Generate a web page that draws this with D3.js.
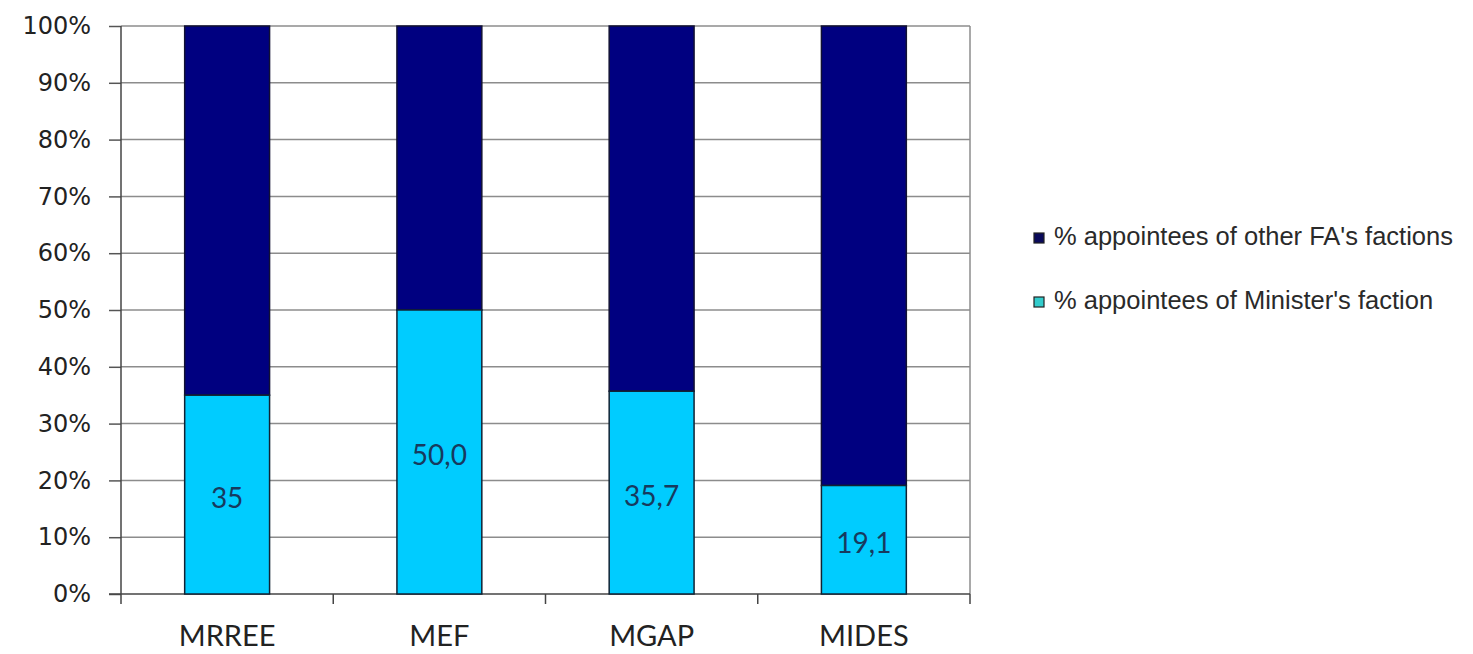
<!DOCTYPE html>
<html><head><meta charset="utf-8">
<script src="https://cdn.jsdelivr.net/npm/d3@7"></script>
<style>body{margin:0;background:#fff;} svg{display:block;}</style>
</head><body>
<svg id="c" width="1473" height="654"></svg>
<script>
const categories = ["MRREE", "MEF", "MGAP", "MIDES"];
const ministerFaction = [35, 50.0, 35.7, 19.1];
const otherFactions = [65, 50.0, 64.3, 80.9];
const valueLabels = ["35", "50,0", "35,7", "19,1"];
const seriesNames = ["% appointees of other FA's factions", "% appointees of Minister's faction"];
const yTicks = [0,10,20,30,40,50,60,70,80,90,100];

const svg = d3.select("#c");
const L = 121, R = 970, T = 26, B = 594;
const x = d3.scaleBand().domain(categories).range([L, R]).paddingInner(0.6).paddingOuter(0.3);
const y = d3.scaleLinear().domain([0, 100]).range([B, T]);

// gridlines
svg.append("g").selectAll("line").data(yTicks.slice(1)).join("line")
  .attr("x1", L).attr("x2", R).attr("y1", d => y(d)).attr("y2", d => y(d))
  .attr("stroke", "#8c8c8c").attr("stroke-width", 1.5);
// right border
svg.append("line").attr("x1", R).attr("x2", R).attr("y1", T).attr("y2", B)
  .attr("stroke", "#8c8c8c").attr("stroke-width", 1.5);

// y axis
const yAxis = d3.axisLeft(y).tickValues(yTicks).tickFormat(d => d + "%").tickSize(12).tickPadding(18);
const gy = svg.append("g").attr("transform", `translate(${L},0)`).call(yAxis);
gy.select(".domain").remove();
gy.selectAll(".tick line").attr("stroke", "#555").attr("stroke-width", 1.5);
gy.selectAll("text").attr("font-family", "'DejaVu Sans', Verdana, sans-serif").attr("font-size", 24).attr("fill", "#222");
svg.append("line").attr("x1", L).attr("x2", L).attr("y1", T).attr("y2", B + 10)
  .attr("stroke", "#444").attr("stroke-width", 1.5);

// x axis
const bounds = [L].concat(categories.map(c => x(c) + x.bandwidth() + x.step() * 0.3));
svg.append("line").attr("x1", L - 12).attr("x2", R).attr("y1", B).attr("y2", B)
  .attr("stroke", "#444").attr("stroke-width", 1.5);
svg.append("g").selectAll("line").data(bounds.slice(1)).join("line")
  .attr("x1", d => d).attr("x2", d => d).attr("y1", B).attr("y2", B + 10)
  .attr("stroke", "#444").attr("stroke-width", 1.5);
svg.append("g").selectAll("text").data(categories).join("text")
  .attr("x", d => x(d) + x.bandwidth() / 2).attr("y", 646)
  .attr("text-anchor", "middle").attr("font-family", "Lato, 'Open Sans', sans-serif")
  .attr("font-size", 29).attr("fill", "#222").text(d => d);

// bars
const data = categories.map((c, i) => ({c, m: ministerFaction[i], o: otherFactions[i], lab: valueLabels[i]}));
const g = svg.append("g");
g.selectAll("rect.o").data(data).join("rect").attr("class", "o")
  .attr("x", d => x(d.c)).attr("width", x.bandwidth())
  .attr("y", d => y(d.m + d.o)).attr("height", d => y(d.m) - y(d.m + d.o))
  .attr("fill", "#000080").attr("stroke", "#111133").attr("stroke-width", 1.5);
g.selectAll("rect.m").data(data).join("rect").attr("class", "m")
  .attr("x", d => x(d.c)).attr("width", x.bandwidth())
  .attr("y", d => y(d.m)).attr("height", d => y(0) - y(d.m))
  .attr("fill", "#00ccff").attr("stroke", "#112233").attr("stroke-width", 1.5);
g.selectAll("text").data(data).join("text")
  .attr("x", d => x(d.c) + x.bandwidth() / 2).attr("y", d => (y(d.m) + y(0)) / 2 + 13)
  .attr("text-anchor", "middle").attr("font-family", "Lato, 'Open Sans', sans-serif")
  .attr("font-size", 28).attr("fill", "#173a5e").text(d => d.lab);

// legend
const legendColors = ["#0a0a5a", "#33cccc"];
const lg = svg.append("g").selectAll("g").data(seriesNames).join("g")
  .attr("transform", (d, i) => `translate(1034, ${233 + i * 64})`);
lg.append("rect").attr("width", 10).attr("height", 10)
  .attr("fill", (d, i) => legendColors[i]).attr("stroke", "#222").attr("stroke-width", 1.2);
lg.append("text").attr("x", 20).attr("y", 12)
  .attr("font-family", "'Liberation Sans', Arial, sans-serif").attr("font-size", 25.5)
  .attr("fill", "#2a2a2a").text(d => d);
</script>
</body></html>
